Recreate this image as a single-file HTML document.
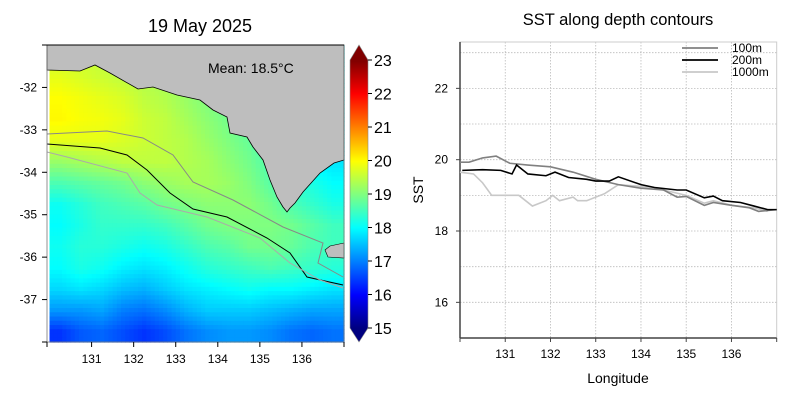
<!DOCTYPE html>
<html><head><meta charset="utf-8"><style>
html,body{margin:0;padding:0;background:#fff;}
svg{display:block;font-family:"Liberation Sans",sans-serif;}
</style></head><body>
<svg id="s" width="800" height="400" viewBox="0 0 800 400" xmlns="http://www.w3.org/2000/svg">
<g id="map"></g>
<g id="chart"></g>
</svg>
<script>
// ---- Map data ----
const mapLons = [130.25,130.75,131.25,131.75,132.25,132.75,133.25,133.75,134.25,134.75,135.25,135.75,136.25,136.75];
const mapLats = [-31.25,-31.75,-32.25,-32.75,-33.25,-33.75,-34.25,-34.75,-35.25,-35.75,-36.25,-36.75,-37.25,-37.75];
const sstGrid = [
[19.6,19.6,19.5,19.4,19.3,19.2,19.0,18.8,18.6,18.4,18.2,18.0,18.0,18.0],
[19.8,19.7,19.6,19.5,19.4,19.3,19.1,18.9,18.7,18.5,18.2,18.0,18.0,18.0],
[20.0,19.9,19.8,19.7,19.5,19.4,19.2,19.0,18.8,18.5,18.2,18.0,18.0,18.0],
[20.05,19.95,19.9,19.8,19.6,19.5,19.3,19.1,18.9,18.6,18.3,18.0,17.9,17.9],
[19.8,19.8,19.8,19.7,19.6,19.5,19.4,19.2,19.0,18.8,18.4,18.1,17.9,17.9],
[19.2,19.3,19.4,19.5,19.5,19.5,19.4,19.3,19.1,18.9,18.6,18.2,17.9,17.8],
[18.6,18.7,18.8,18.9,19.1,19.2,19.3,19.3,19.2,19.0,18.7,18.4,18.2,18.0],
[18.1,18.3,18.5,18.6,18.7,18.9,19.0,19.1,19.1,19.1,18.9,18.6,18.4,18.2],
[18.0,18.2,18.4,18.4,18.4,18.5,18.7,18.9,19.0,19.0,19.0,18.9,18.7,18.5],
[18.1,18.3,18.3,18.2,18.1,18.2,18.4,18.6,18.7,18.9,18.9,18.8,18.6,18.5],
[18.0,18.2,18.1,17.9,17.8,17.9,18.1,18.3,18.4,18.5,18.6,18.5,18.4,18.3],
[17.7,17.8,17.7,17.5,17.4,17.6,17.8,17.9,18.0,18.1,18.0,18.0,17.9,17.8],
[17.2,17.2,17.3,17.0,16.9,17.1,17.4,17.6,17.6,17.6,17.5,17.4,17.3,17.3],
[16.4,16.7,16.8,16.6,16.4,16.6,16.9,17.1,17.2,17.2,17.1,16.9,16.8,16.9]];
const mapLonTicks = [131,132,133,134,135,136];
const mapLatTicks = [-32,-33,-34,-35,-36,-37];
const cbarTicks = [15,16,17,18,19,20,21,22,23];
const meanLabel = "Mean: 18.5°C";
// ---- Line chart data ----
const lon100 = [130.0,130.2,130.5,130.8,131.1,131.5,132.0,132.5,133.0,133.5,134.0,134.5,134.8,135.0,135.4,135.6,136.0,136.4,136.6,137.0];
const sst100 = [19.93,19.93,20.05,20.1,19.9,19.85,19.8,19.65,19.45,19.3,19.2,19.15,18.95,18.97,18.72,18.8,18.72,18.65,18.55,18.6];
const lon200 = [130.05,130.5,130.9,131.15,131.25,131.5,131.9,132.1,132.4,132.8,133.0,133.3,133.5,134.0,134.3,134.8,135.0,135.4,135.6,135.8,136.2,136.5,136.8,137.0];
const sst200 = [19.7,19.72,19.7,19.6,19.85,19.6,19.55,19.65,19.5,19.45,19.4,19.4,19.52,19.3,19.22,19.15,19.15,18.93,18.98,18.85,18.8,18.7,18.6,18.6];
const lon1000 = [130.0,130.3,130.5,130.7,131.3,131.6,131.9,132.05,132.2,132.5,132.6,132.8,133.2,133.5,134.0,134.5,135.0,135.4,135.6,136.0,136.5,136.8];
const sst1000 = [19.65,19.6,19.35,19.0,19.0,18.7,18.85,19.0,18.85,18.95,18.85,18.85,19.05,19.3,19.25,19.15,19.0,18.78,18.85,18.72,18.65,18.55];
const chartXTicks = [131,132,133,134,135,136];
const chartYTicks = [16,18,20,22];
const chartYGrid = [16,17,18,19,20,21,22,23];
const legendLabels = ["100m","200m","1000m"];

const NS="http://www.w3.org/2000/svg";
function mk(tag,attrs,parent,text){const e=document.createElementNS(NS,tag);for(const k in attrs)e.setAttribute(k,attrs[k]);if(text!==undefined)e.textContent=text;parent.appendChild(e);return e;}

const mx=lon=>47+(lon-129.94)*(297/7.06);
const my=lat=>45+(-31-lat)*(297/7);
function jet(v){let t=Math.max(0,Math.min(1,(v-15)/8));
 const f=x=>Math.max(0,Math.min(1,1.5-Math.abs(4*t-x)));
 return `rgb(${Math.round(255*f(3))},${Math.round(255*f(2))},${Math.round(255*f(1))})`;}
const map=document.getElementById('map');
const cells=mk('g',{},map);


const up=5, nr=mapLats.length, nc=mapLons.length;
function sample(r,c){r=Math.max(0,Math.min(nr-1,r));c=Math.max(0,Math.min(nc-1,c));
 const r0=Math.floor(r),c0=Math.floor(c),r1=Math.min(nr-1,r0+1),c1=Math.min(nc-1,c0+1),fr=r-r0,fc=c-c0;
 return (sstGrid[r0][c0]*(1-fc)+sstGrid[r0][c1]*fc)*(1-fr)+(sstGrid[r1][c0]*(1-fc)+sstGrid[r1][c1]*fc)*fr;}
const lonStep=(mapLons[1]-mapLons[0])/up, latStep=(mapLats[1]-mapLats[0])/up;
for(let i=0;i<nr*up;i++){for(let j=0;j<nc*up;j++){
 const r=(i+0.5)/up-0.5,c=(j+0.5)/up-0.5;
 const lon0=mapLons[0]-0.25+j*lonStep, lat0=mapLats[0]+0.25+i*latStep;
 const x0=Math.max(47,mx(lon0)), x1=Math.min(344,mx(lon0+lonStep)), y0=Math.max(45,my(lat0)), y1=Math.min(342,my(lat0+latStep));
 if(x1<=x0||y1<=y0)continue;
 const rc=mk('rect',{x:x0,y:y0,width:x1-x0+0.6,height:y1-y0+0.6,fill:jet(sample(r,c))},cells);
 
 
}}
</script>
<script>
(function(){
const map=document.getElementById('map');
const land=mk('polygon',{points:"47,45 344,45 344,160 334,163 320,173 303,192 295,203 290,208 287,212 283,207 277,197 270,180 263,160 253,147 247,137 230,133 227,117 213,110 200,100 177,95 153,87 138,89 110,73 95,65 80,71 47,70",fill:"#bebebe",stroke:"#000","stroke-width":"0.8"},map);

const land2=mk('polygon',{points:"344,243 330,246 325,250 328,257 344,258",fill:"#bebebe",stroke:"#000","stroke-width":"0.6"},map);

const c100=mk('polyline',{points:"47,134 107,131 143,138 173,155 193,182 233,200 283,227 323,243 318,263 343,277",fill:"none",stroke:"#888","stroke-width":"1"},map);

const c200=mk('polyline',{points:"47,144 100,148 127,155 147,170 170,193 193,209 227,217 267,238 290,253 307,277 343,285",fill:"none",stroke:"#000","stroke-width":"1"},map);

const c1000=mk('polyline',{points:"47,152 67,157 127,173 140,193 157,205 207,217 260,238 290,263 320,280 343,288",fill:"none",stroke:"#aaa","stroke-width":"1"},map);

const fr=mk('rect',{x:47,y:45,width:297,height:297,fill:"none",stroke:"#777","stroke-width":"0.8"},map);

mk('line',{x1:42,y1:45,x2:344,y2:45,stroke:"#000","stroke-width":"1"},map);
mk('line',{x1:47,y1:342,x2:47,y2:347,stroke:"#000"},map);
mk('line',{x1:42,y1:342,x2:47,y2:342,stroke:"#000"},map);
mk('line',{x1:344,y1:342,x2:344,y2:347,stroke:"#000"},map);
mapLonTicks.forEach(v=>{mk('line',{x1:mx(v),y1:342,x2:mx(v),y2:347,stroke:"#000"},map);
 const t=mk('text',{x:mx(v),y:363,"font-size":"12","text-anchor":"middle"},map,String(v));
 });
mapLatTicks.forEach(v=>{mk('line',{x1:42,y1:my(v),x2:47,y2:my(v),stroke:"#000"},map);
 const t=mk('text',{x:37,y:my(v)+4,"font-size":"12","text-anchor":"end"},map,String(v));
 });
const ti=mk('text',{x:200,y:32,"font-size":"18","text-anchor":"middle"},map,"19 May 2025");

const mn=mk('text',{x:208,y:73,"font-size":"14"},map,meanLabel);

const cb=mk('g',{},map);
const cy=v=>328-(v-15)*(268/8);
for(let k=0;k<134;k++){const v0=15+k*8/134;mk('rect',{x:350,y:cy(v0+8/134),width:18,height:268/134+0.5,fill:jet(v0+4/134)},cb);}
mk('polygon',{points:"350,60 368,60 359,45",fill:jet(23)},cb);
mk('polygon',{points:"350,328 368,328 359,342",fill:jet(15)},cb);
mk('polygon',{points:"350,60 359,45 368,60 368,328 359,342 350,328",fill:"none",stroke:"#888","stroke-width":"0.6"},cb);
cbarTicks.forEach(v=>{mk('line',{x1:368,y1:cy(v),x2:372,y2:cy(v),stroke:"#000"},cb);
 const t=mk('text',{x:374,y:cy(v)+6,"font-size":"16"},cb,String(v));
 });
})();

(function(){
const g=document.getElementById('chart');
const L=460,R=776.7,T=42,B=338,X0=130,X1=137,Y0=15,Y1=23.3;
const cx=v=>L+(v-X0)/(X1-X0)*(R-L), cyy=v=>B-(v-Y0)/(Y1-Y0)*(B-T);
const ti=mk('text',{x:618,y:25,"font-size":"16.5","text-anchor":"middle"},g,"SST along depth contours");

chartXTicks.forEach(v=>mk('line',{x1:cx(v),y1:T,x2:cx(v),y2:B,stroke:"#bbb","stroke-dasharray":"1.5,1.5","stroke-width":"0.8"},g));
chartYGrid.forEach(v=>mk('line',{x1:L,y1:cyy(v),x2:R,y2:cyy(v),stroke:"#bbb","stroke-dasharray":"1.5,1.5","stroke-width":"0.8"},g));
mk('rect',{x:L,y:T,width:R-L,height:B-T,fill:"none",stroke:"#ccc","stroke-width":"1"},g);
mk('line',{x1:L,y1:T,x2:L,y2:B,stroke:"#444","stroke-width":"1.5"},g);
mk('line',{x1:L,y1:B,x2:R,y2:B,stroke:"#444","stroke-width":"1.5"},g);
[130].concat(chartXTicks,[137]).forEach(v=>mk('line',{x1:cx(v),y1:B,x2:cx(v),y2:B+4,stroke:"#444"},g));
chartXTicks.forEach(v=>{const t=mk('text',{x:cx(v),y:358,"font-size":"12","text-anchor":"middle"},g,String(v));
 });
chartYTicks.forEach(v=>{mk('line',{x1:L-4,y1:cyy(v),x2:L,y2:cyy(v),stroke:"#444"},g);
 const t=mk('text',{x:448,y:cyy(v)+4,"font-size":"12","text-anchor":"end"},g,String(v));
 });
const xl=mk('text',{x:618,y:383,"font-size":"14","text-anchor":"middle"},g,"Longitude");

const yl=mk('text',{x:423,y:190,"font-size":"14","text-anchor":"middle",transform:"rotate(-90 423 190)"},g,"SST");

const series=[[lon1000,sst1000,"#c8c8c8","line-1000m"],[lon100,sst100,"#808080","line-100m"],[lon200,sst200,"#000","line-200m"]];
series.forEach(s=>{const pts=s[0].map((x,i)=>cx(x)+","+cyy(s[1][i])).join(" ");
 const p=mk('polyline',{points:pts,fill:"none",stroke:s[2],"stroke-width":"1.6"},g);
 
 });
const cols=["#808080","#000","#c8c8c8"];
legendLabels.forEach((lab,i)=>{const y=48+i*12;
 const le=mk('g',{},g);
 
 
 mk('line',{x1:682,y1:y,x2:718,y2:y,stroke:cols[i],"stroke-width":"1.8"},le);
 mk('text',{x:732,y:y+4,"font-size":"12"},le,lab);});
})();
</script>
</body></html>
